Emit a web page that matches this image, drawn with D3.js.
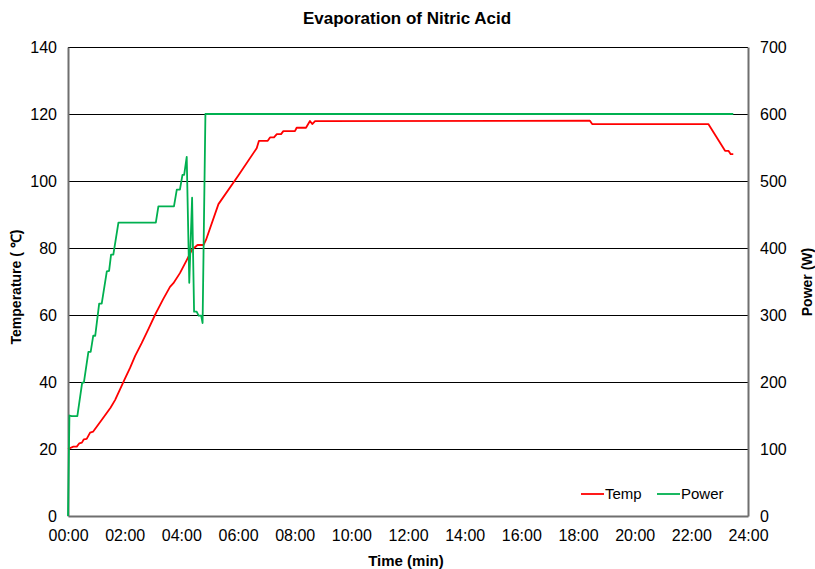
<!DOCTYPE html>
<html>
<head>
<meta charset="utf-8">
<script src="https://cdn.jsdelivr.net/npm/d3@7"></script>
<style>
  body { margin: 0; background: #fff; }
  text { font-family: "Liberation Sans Narrow", "Liberation Sans", Arial, sans-serif; fill: #000; }
</style>
</head>
<body>
<svg id="canvas"></svg>
<script>
// time in minutes, temperature in degC
let tempTime = [0, 0.19, 0.31, 0.4, 0.49, 0.56, 0.66, 0.78, 0.89, 1.2, 1.5, 1.66, 1.84, 2.01, 2.19, 2.37, 2.6, 2.85, 3.07, 3.13, 3.35, 3.6, 3.72, 3.95, 4.19, 4.37, 4.57, 4.78, 4.87, 5.31, 6.0, 6.66, 6.74, 7.05, 7.13, 7.27, 7.37, 7.52, 7.6, 8.01, 8.07, 8.4, 8.54, 8.62, 8.72, 18.42, 18.5, 22.6, 23.19, 23.31, 23.39, 23.48]
let tempValues = [20, 20.7, 20.7, 21.7, 21.9, 22.9, 23, 24.9, 25.2, 28.8, 32.3, 34.6, 37.9, 41, 44.2, 47.8, 51.6, 56, 60, 61, 64.6, 68.4, 69.5, 72.5, 76.4, 79.4, 80.9, 80.9, 82.4, 93.1, 101.5, 109.8, 112, 112, 113, 113, 114, 114, 114.9, 114.9, 115.9, 115.9, 117.9, 117, 117.9, 118, 117, 117, 109, 109, 108, 108]

// time in minutes, power in W
let powerTime = [0, 0.05, 0.13, 0.33, 0.5, 0.56, 0.72, 0.8, 0.89, 0.96, 1.1, 1.19, 1.37, 1.45, 1.52, 1.6, 1.78, 3.1, 3.19, 3.74, 3.84, 3.95, 4.04, 4.1, 4.19, 4.28, 4.38, 4.45, 4.54, 4.61, 4.7, 4.75, 4.85, 23.48]
let powerValues = [0, 150, 149, 149, 199, 199, 245, 245, 269, 269, 317, 317, 365, 366, 390, 390, 438, 438, 462, 462, 487, 487, 509, 509, 536, 348, 475, 305, 305, 299, 299, 288, 600, 600]

let xTicks = [0, 2, 4, 6, 8, 10, 12, 14, 16, 18, 20, 22, 24]
let tempTicks = [0, 20, 40, 60, 80, 100, 120, 140]
let powerTicks = [0, 100, 200, 300, 400, 500, 600, 700]

let width = 815
let height = 569
let plotLeft = 68, plotRight = 748, plotTop = 47, plotBottom = 516

let canvas = d3.select("#canvas")
canvas.attr("width", width).attr("height", height)

let xScale = d3.scaleLinear().domain([0, 24]).range([plotLeft, plotRight])
let yTemp = d3.scaleLinear().domain([0, 140]).range([plotBottom, plotTop])
let yPower = d3.scaleLinear().domain([0, 700]).range([plotBottom, plotTop])

let pad = n => (n < 10 ? "0" : "") + n + ":00"

// gridlines (black, like the original)
canvas.append("g")
      .selectAll("line")
      .data(tempTicks.filter(t => t > 0))
      .enter().append("line")
      .attr("x1", plotLeft).attr("x2", plotRight)
      .attr("y1", t => Math.round(yTemp(t)) + 0.5).attr("y2", t => Math.round(yTemp(t)) + 0.5)
      .attr("stroke", "#000").attr("stroke-width", 1.2)
      .attr("shape-rendering", "crispEdges")

// axes
let leftAxis = canvas.append("g")
      .attr("transform", "translate(" + plotLeft + ",0)")
      .call(d3.axisLeft(yTemp).tickValues(tempTicks).tickSize(0).tickPadding(11))
let rightAxis = canvas.append("g")
      .attr("transform", "translate(" + plotRight + ",0)")
      .call(d3.axisRight(yPower).tickValues(powerTicks).tickSize(0).tickPadding(12))
let bottomAxis = canvas.append("g")
      .attr("transform", "translate(0," + plotBottom + ")")
      .call(d3.axisBottom(xScale).tickValues(xTicks).tickFormat(pad).tickSize(0).tickPadding(14))

;[leftAxis, rightAxis, bottomAxis].forEach(axis => {
  axis.select(".domain").attr("stroke", "#6f6f6f").attr("stroke-width", 2)
  axis.selectAll("text").style("font-size", "16px").attr("fill", "#000")
})

// lines
let tempLine = d3.line()
                 .x((d, i) => xScale(tempTime[i]))
                 .y(d => yTemp(d))
let powerLine = d3.line()
                  .x((d, i) => xScale(powerTime[i]))
                  .y(d => yPower(d))

canvas.append("path")
      .datum(tempValues)
      .attr("d", tempLine)
      .attr("fill", "none")
      .attr("stroke", "#ff0000")
      .attr("stroke-width", 1.8)
      .attr("stroke-linejoin", "round")

canvas.append("path")
      .datum(powerValues)
      .attr("d", powerLine)
      .attr("fill", "none")
      .attr("stroke", "#00b050")
      .attr("stroke-width", 1.8)
      .attr("stroke-linejoin", "round")

// titles
canvas.append("text")
      .attr("x", 407).attr("y", 24)
      .attr("text-anchor", "middle")
      .style("font-size", "17px").style("font-weight", "bold")
      .text("Evaporation of Nitric Acid")

canvas.append("text")
      .attr("x", 406).attr("y", 566)
      .attr("text-anchor", "middle")
      .style("font-size", "15px").style("font-weight", "bold")
      .text("Time (min)")

canvas.append("text")
      .attr("transform", "translate(21,287) rotate(-90)")
      .attr("text-anchor", "middle")
      .style("font-size", "14px").style("font-weight", "bold")
      .text("Temperature ( ℃)")

canvas.append("text")
      .attr("transform", "translate(812,282) rotate(-90)")
      .attr("text-anchor", "middle")
      .style("font-size", "14px").style("font-weight", "bold")
      .text("Power (W)")

// legend
let legendItems = [
  { name: "Temp", color: "#ff0000", x: 581 },
  { name: "Power", color: "#00b050", x: 657 }
]
let legend = canvas.append("g")
legend.selectAll("line")
      .data(legendItems)
      .enter().append("line")
      .attr("x1", d => d.x).attr("x2", d => d.x + 23)
      .attr("y1", 494).attr("y2", 494)
      .attr("stroke", d => d.color).attr("stroke-width", 1.8)
legend.selectAll("text")
      .data(legendItems)
      .enter().append("text")
      .attr("x", d => d.x + 24).attr("y", 499)
      .style("font-size", "15px")
      .text(d => d.name)
</script>
</body>
</html>
